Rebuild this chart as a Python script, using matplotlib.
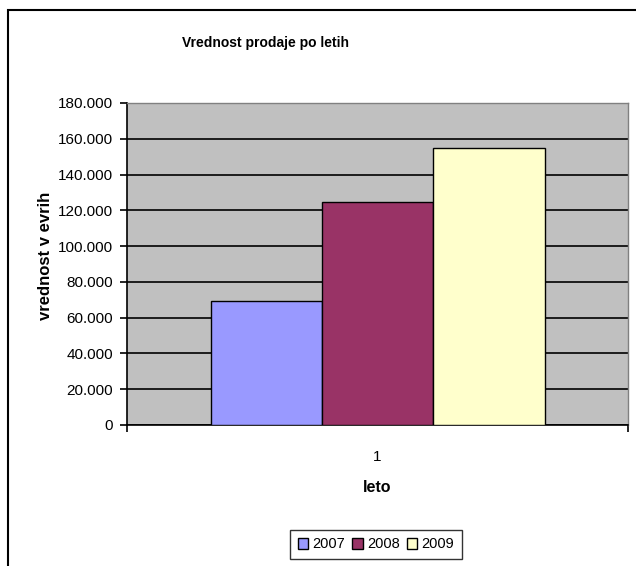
import matplotlib
matplotlib.use("Agg")
import matplotlib.pyplot as plt
from matplotlib.patches import Rectangle
from matplotlib.ticker import FuncFormatter

plt.rcParams['font.family'] = ['Liberation Sans', 'DejaVu Sans']

title = "Vrednost prodaje po letih"
ylabel = "vrednost v evrih"
xlabel = "leto"
category = ["1"]
years = ["2007", "2008", "2009"]
values = [69300, 124500, 155000]
colors = ["#9999FF", "#993366", "#FFFFCC"]

W, H = 636, 566
fig = plt.figure(figsize=(W / 100, H / 100), dpi=100)

# outer chart border
fig.patches.append(Rectangle((8 / W, -0.1), 1.2, 1 - 10 / H + 0.1,
                             transform=fig.transFigure, fill=False,
                             edgecolor="black", linewidth=1.5, zorder=0))

left, right, top, bottom = 127, 628, 103, 425
ax = fig.add_axes([left / W, 1 - bottom / H, (right - left) / W, (bottom - top) / H])
ax.set_facecolor("#C0C0C0")

w = 1 / 4.5
for i, (yr, v, c) in enumerate(zip(years, values, colors)):
    ax.bar((i - 1) * w, v, width=w, color=c, edgecolor="black", linewidth=1.0,
           label=yr, zorder=3)

ax.set_xlim(-0.5, 0.5)
ax.set_ylim(0, 180000)
ax.set_yticks(range(0, 180001, 20000))
ax.yaxis.set_major_formatter(FuncFormatter(lambda v, p: f"{int(v):,}".replace(",", ".")))
ax.grid(axis="y", color="black", linewidth=1.2, zorder=1)
ax.set_axisbelow(True)

ax.set_xticks([0])
ax.set_xticklabels(category)
ax.set_xticks([-0.5, 0.5], minor=True)
ax.tick_params(axis="x", which="major", length=0, pad=18, labelsize=11)
ax.tick_params(axis="x", which="minor", length=5, width=1.2, color="black")
ax.tick_params(axis="y", length=5, width=1.2, pad=5, labelsize=11)

for s in ["top", "right"]:
    ax.spines[s].set_color("#808080")
    ax.spines[s].set_linewidth(1.0)
for s in ["left", "bottom"]:
    ax.spines[s].set_color("black")
    ax.spines[s].set_linewidth(1.2)

fig.text(266 / W, 1 - 43 / H, title, ha="center", va="center",
         fontsize=10, fontweight="bold")
fig.text(45 / W, 1 - 256 / H, ylabel, ha="center", va="center", rotation=90,
         fontsize=12, fontweight="bold")
fig.text(377 / W, 1 - 488 / H, xlabel, ha="center", va="center",
         fontsize=11.5, fontweight="bold")

leg = fig.legend(loc="center", bbox_to_anchor=(376 / W, 1 - 544.5 / H), ncol=3,
                 frameon=True, fancybox=False, edgecolor="black",
                 handlelength=0.7, handleheight=0.7, handletextpad=0.3,
                 columnspacing=0.5, borderpad=0.5, fontsize=10.5)
leg.get_frame().set_linewidth(1.0)

fig.savefig("out.png", dpi=100)
